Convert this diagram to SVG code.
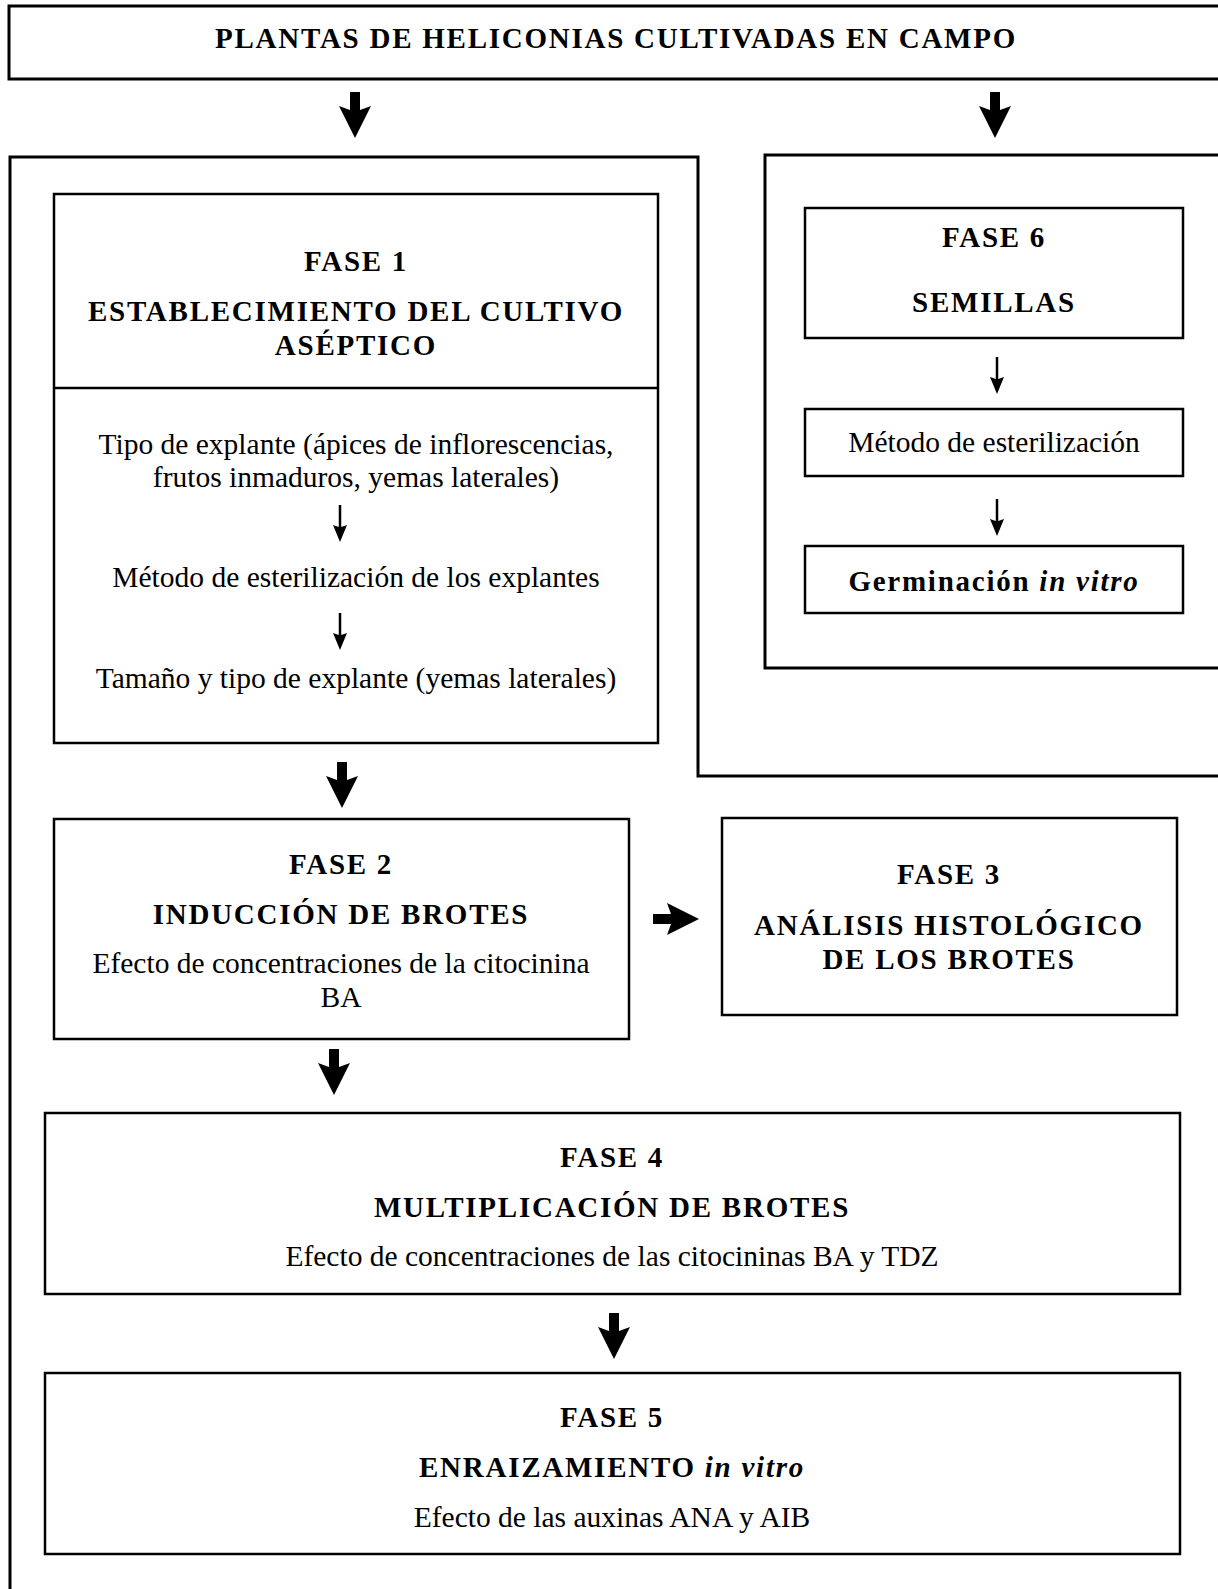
<svg xmlns="http://www.w3.org/2000/svg" width="1218" height="1589" viewBox="0 0 1218 1589">
<style>
.box{fill:none;stroke:#000;stroke-width:2.5}
.thick{fill:none;stroke:#000;stroke-width:3}
.h{font-family:"Liberation Serif","Times New Roman",serif;font-size:29px;font-weight:bold;letter-spacing:1.75px;text-anchor:middle;fill:#000}
.t{font-family:"Liberation Serif","Times New Roman",serif;font-size:29.5px;text-anchor:middle;fill:#000}
.i{font-style:italic}
.arr{fill:#000}
</style>
<defs>
<path id="big" d="M-5,0 H5 V18 L16,14 L0,46 L-16,14 L-5,18 Z"/>
<path id="thin" d="M-1.25,0 H1.25 V22 L7,20 L0,37 L-7,20 L-1.25,22 Z"/>
</defs>
<rect width="1218" height="1589" fill="#fff"/>

<g id="containers">
<path class="thick" d="M10,1592 V157 H698 V776 H1222"/>
<rect class="thick" x="765" y="155" width="460" height="513"/>
</g>

<g id="top">
<rect class="thick" x="9" y="6" width="1214" height="73"/>
<text class="h" x="616" y="48">PLANTAS DE HELICONIAS CULTIVADAS EN CAMPO</text>
</g>

<g id="fase1">
<rect class="box" x="54" y="194" width="604" height="549"/>
<line class="box" x1="54" y1="388" x2="658" y2="388"/>
<text class="h" x="356" y="271">FASE 1</text>
<text class="h" x="356" y="321">ESTABLECIMIENTO DEL CULTIVO</text>
<text class="h" x="356" y="355">ASÉPTICO</text>
<text class="t" x="356" y="454">Tipo de explante (ápices de inflorescencias,</text>
<text class="t" x="356" y="487">frutos inmaduros, yemas laterales)</text>
<text class="t" x="356" y="587">Método de esterilización de los explantes</text>
<text class="t" x="356" y="688">Tamaño y tipo de explante (yemas laterales)</text>
</g>

<g id="fase6">
<rect class="box" x="805" y="208" width="378" height="130"/>
<text class="h" x="994" y="247">FASE 6</text>
<text class="h" x="994" y="312">SEMILLAS</text>
</g>
<g id="metodo6">
<rect class="box" x="805" y="409" width="378" height="67"/>
<text class="t" x="994" y="452">Método de esterilización</text>
</g>
<g id="germinacion">
<rect class="box" x="805" y="546" width="378" height="67"/>
<text class="h" x="994" y="591">Germinación <tspan class="i">in vitro</tspan></text>
</g>

<g id="fase2">
<rect class="box" x="54" y="819" width="575" height="220"/>
<text class="h" x="341" y="874">FASE 2</text>
<text class="h" x="341" y="924">INDUCCIÓN DE BROTES</text>
<text class="t" x="341" y="973">Efecto de concentraciones de la citocinina</text>
<text class="t" x="341" y="1007">BA</text>
</g>

<g id="fase3">
<rect class="box" x="722" y="818" width="455" height="197"/>
<text class="h" x="949" y="884">FASE 3</text>
<text class="h" x="949" y="935">ANÁLISIS HISTOLÓGICO</text>
<text class="h" x="949" y="969">DE LOS BROTES</text>
</g>

<g id="fase4">
<rect class="box" x="45" y="1113" width="1135" height="181"/>
<text class="h" x="612" y="1167">FASE 4</text>
<text class="h" x="612" y="1217">MULTIPLICACIÓN DE BROTES</text>
<text class="t" x="612" y="1266">Efecto de concentraciones de las citocininas BA y TDZ</text>
</g>

<g id="fase5">
<rect class="box" x="45" y="1373" width="1135" height="181"/>
<text class="h" x="612" y="1427">FASE 5</text>
<text class="h" x="612" y="1477">ENRAIZAMIENTO <tspan class="i">in vitro</tspan></text>
<text class="t" x="612" y="1527">Efecto de las auxinas ANA y AIB</text>
</g>

<g id="connectors" class="arr">
<use href="#big" transform="translate(355,92)"/>
<use href="#big" transform="translate(995,92)"/>
<use href="#big" transform="translate(342,762)"/>
<use href="#big" transform="translate(653,919) rotate(-90)"/>
<use href="#big" transform="translate(334,1049)"/>
<use href="#big" transform="translate(614,1313)"/>
<use href="#thin" transform="translate(340,505)"/>
<use href="#thin" transform="translate(340,613)"/>
<use href="#thin" transform="translate(997,357)"/>
<use href="#thin" transform="translate(997,499)"/>
</g>
</svg>
